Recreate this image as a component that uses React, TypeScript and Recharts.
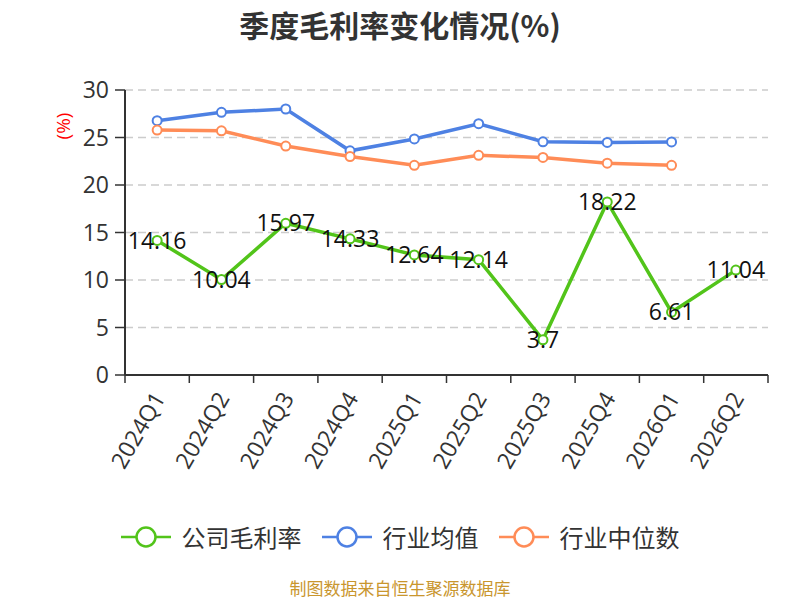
import React from 'react';
import { LineChart, Line, XAxis, YAxis, CartesianGrid, Legend, LabelList } from 'recharts';

const quarters = ['2024Q1', '2024Q2', '2024Q3', '2024Q4', '2025Q1', '2025Q2', '2025Q3', '2025Q4', '2026Q1', '2026Q2'];
const companyMargin = [14.16, 10.04, 15.97, 14.33, 12.64, 12.14, 3.7, 18.22, 6.61, 11.04];
const industryAvg: (number | null)[] = [26.77, 27.65, 28.0, 23.6, 24.85, 26.45, 24.55, 24.48, 24.53, null];
const industryMedian: (number | null)[] = [25.78, 25.7, 24.1, 23.0, 22.07, 23.12, 22.9, 22.3, 22.07, null];
const yTicks = [0, 5, 10, 15, 20, 25, 30];

const seriesNames = ['公司毛利率', '行业均值', '行业中位数'];
const colors = ['#52C41A', '#4E81E3', '#FF8C57'];

const data = quarters.map((q, i) => ({
  q,
  company: companyMargin[i],
  avg: industryAvg[i],
  median: industryMedian[i],
}));

const FONT = "'Noto Sans CJK SC', 'Noto Sans', sans-serif";
const NUM_FONT = "'Open Sans', 'Noto Sans', sans-serif";
const W = 800;
const H = 600;
const MARGIN = { top: 90, right: 32, left: 0, bottom: 48 };
const Y_W = 125;
const PLOT_W = W - MARGIN.left - MARGIN.right - Y_W;
const BAND = PLOT_W / quarters.length;

const XTick = (props: any) => {
  const { x, y, payload, index } = props;
  const ax = x + 2;
  const ay = y + 19;
  return (
    <g>
      <line x1={x - BAND / 2} y1={y} x2={x - BAND / 2} y2={y + 8} stroke="#333" strokeWidth={1.5} />
      {index === quarters.length - 1 && (
        <line x1={x + BAND / 2} y1={y} x2={x + BAND / 2} y2={y + 8} stroke="#333" strokeWidth={1.5} />
      )}
      <text
        x={ax}
        y={ay}
        textAnchor="end"
        dy="0.35em"
        fontSize={23}
        fill="#333"
        fontFamily={NUM_FONT}
        transform={`rotate(-60 ${ax} ${ay})`}
      >
        {payload.value}
      </text>
    </g>
  );
};

const LegendContent = () => (
  <div
    style={{
      display: 'flex',
      justifyContent: 'center',
      alignItems: 'center',
      height: 30,
      fontFamily: FONT,
    }}
  >
    {seriesNames.map((name, i) => (
      <div key={name} style={{ display: 'flex', alignItems: 'center', marginLeft: i === 0 ? 0 : 20 }}>
        <svg width={50} height={26}>
          <line x1={0} y1={13} x2={50} y2={13} stroke={colors[i]} strokeWidth={2.5} />
          <circle cx={25} cy={13} r={9.5} fill="#fff" stroke={colors[i]} strokeWidth={2.5} />
        </svg>
        <span style={{ marginLeft: 11, fontSize: 24, color: '#333', lineHeight: '30px' }}>{name}</span>
      </div>
    ))}
  </div>
);

const YUnit = () => (
  <text
    x={63}
    y={126}
    textAnchor="middle"
    dominantBaseline="central"
    fill="#FF0000"
    fontSize={19}
    fontFamily={NUM_FONT}
    transform="rotate(-90 63 126)"
  >
    (%)
  </text>
);

export default function App() {
  return (
    <div style={{ position: 'absolute', left: 0, top: 0, width: W, height: H, background: '#fff', fontFamily: FONT, overflow: 'hidden' }}>
      <div
        style={{
          position: 'absolute',
          top: 8,
          left: 0,
          width: W,
          textAlign: 'center',
          fontSize: 30,
          fontWeight: 'bold',
          color: '#333',
          lineHeight: '32px',
        }}
      >
        季度毛利率变化情况(%)
      </div>
      <LineChart width={W} height={H} data={data} margin={MARGIN}>
        <CartesianGrid vertical={false} stroke="#cccccc" strokeWidth={1.5} strokeDasharray="8 5" />
        <XAxis
          dataKey="q"
          height={147}
          interval={0}
          padding={{ left: BAND / 2, right: BAND / 2 }}
          axisLine={{ stroke: '#333', strokeWidth: 2 }}
          tickLine={false}
          tickSize={0}
          tickMargin={0}
          tick={<XTick />}
        />
        <YAxis
          width={Y_W}
          domain={[0, 30]}
          ticks={yTicks}
          interval={0}
          axisLine={{ stroke: '#333', strokeWidth: 2 }}
          tickLine={{ stroke: '#333', strokeWidth: 1.5 }}
          tickSize={10}
          tickMargin={6}
          tick={{ fontSize: 23, fill: '#333', fontFamily: NUM_FONT }}
          label={<YUnit />}
        />
        <Legend
          verticalAlign="bottom"
          content={<LegendContent />}
          wrapperStyle={{ left: 0, width: W, height: 30 }}
        />
        <Line
          dataKey="avg"
          name={seriesNames[1]}
          stroke={colors[1]}
          strokeWidth={3.5}
          dot={{ r: 4.5, fill: '#fff', stroke: colors[1], strokeWidth: 2 }}
          isAnimationActive={false}
          connectNulls={false}
        />
        <Line
          dataKey="median"
          name={seriesNames[2]}
          stroke={colors[2]}
          strokeWidth={3.5}
          dot={{ r: 4.5, fill: '#fff', stroke: colors[2], strokeWidth: 2 }}
          isAnimationActive={false}
          connectNulls={false}
        />
        <Line
          dataKey="company"
          name={seriesNames[0]}
          stroke={colors[0]}
          strokeWidth={3.5}
          dot={{ r: 4.5, fill: '#fff', stroke: colors[0], strokeWidth: 2 }}
          isAnimationActive={false}
        >
          <LabelList dataKey="company" position="center" fontSize={23} fill="#111" fontFamily={NUM_FONT} />
        </Line>
      </LineChart>
      <div
        style={{
          position: 'absolute',
          top: 577,
          left: 0,
          width: W,
          textAlign: 'center',
          fontSize: 17,
          color: '#C9962E',
          lineHeight: '21px',
        }}
      >
        制图数据来自恒生聚源数据库
      </div>
    </div>
  );
}
